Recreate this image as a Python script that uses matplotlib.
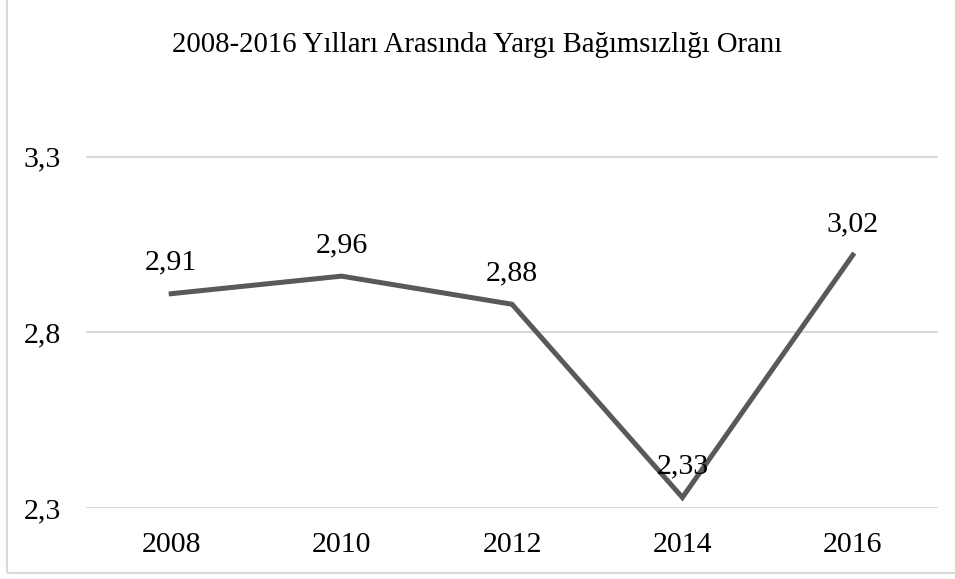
import matplotlib
matplotlib.use("Agg")
import matplotlib.pyplot as plt
from matplotlib.patches import Rectangle

years = ["2008", "2010", "2012", "2014", "2016"]
values = [2.91, 2.96, 2.88, 2.33, 3.02]
yticks = [2.3, 2.8, 3.3]
ytick_labels = ["2,3", "2,8", "3,3"]
title = "2008-2016 Yılları Arasında Yargı Bağımsızlığı Oranı"

plt.rcParams['font.family'] = ['Liberation Serif', 'DejaVu Serif']

fig = plt.figure(figsize=(9.55, 5.79), dpi=100)
ax = fig.add_axes([86/955, 1-508/579, (938-86)/955, (508-104)/579])

x = list(range(len(years)))
ax.plot(x, values, color="#595959", linewidth=3.6, solid_joinstyle="miter", zorder=3)
for xi, v in zip(x, values):
    ax.annotate(f"{v:.2f}".replace(".", ","), (xi, v), xytext=(0, 13),
                textcoords="offset points", ha="center", va="bottom",
                fontsize=21.5, color="black", zorder=4)

ax.set_xlim(-0.5, len(years) - 0.5)
ax.set_ylim(2.3, 3.45)
ax.set_xticks(x)
ax.set_xticklabels(years, fontsize=21.5)
ax.set_yticks(yticks)
ax.set_yticklabels(ytick_labels, fontsize=21.5)
ax.tick_params(axis="both", length=0)
ax.tick_params(axis="y", pad=18)
ax.tick_params(axis="x", pad=17)
ax.grid(axis="y", color="#d9d9d9", linewidth=1.5)
ax.set_axisbelow(True)
for s in ax.spines.values():
    s.set_visible(False)

fig.text(477/955, 1-45/579, title, ha="center", va="center", fontsize=20.7, color="black")

fig.patches.append(Rectangle((7/955, 6/579), 1.2, 1.2, transform=fig.transFigure,
                             fill=False, edgecolor="#d9d9d9", linewidth=1.5))

fig.savefig("out.png", dpi=100)
